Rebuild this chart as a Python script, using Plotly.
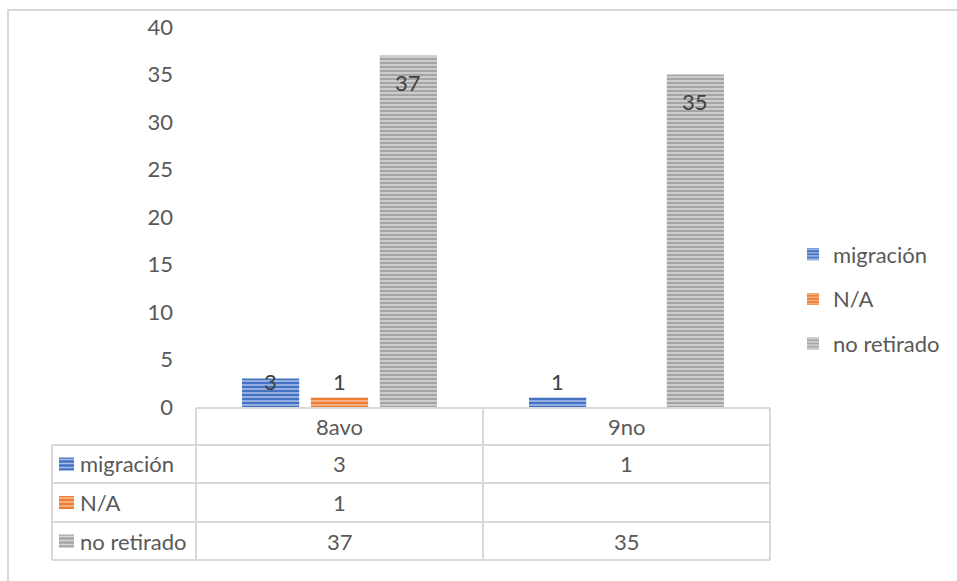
import plotly.graph_objects as go

categories = ["8avo", "9no"]
series_names = ["migración", "N/A", "no retirado"]
migracion = [3, 1]
na_values = [1, None]
no_retirado = [37, 35]
y_ticks = [0, 5, 10, 15, 20, 25, 30, 35, 40]

series_values = [migracion, na_values, no_retirado]
colors = ["#4472C4", "#ED7D31", "#A5A5A5"]
stripe = ["#A9BFE6", "#F7BE98", "#D6D6D6"]

W, H = 957, 581
L, R, T, B = 196, 770, 27, 407
FONT = "Lato, 'Open Sans', sans-serif"
TXT = "#595959"
GRID = "#D9D9D9"
FS = 22

def px(x):
    return (x - L) / (R - L)

def py(y):
    return (B - y) / (B - T)

BARGAP = 0.28
GROUPGAP = 0.17
n = len(series_names)

fig = go.Figure()
for i, (name, vals) in enumerate(zip(series_names, series_values)):
    fig.add_trace(go.Bar(
        x=categories, y=vals, name=name, legendgroup=name,
        marker=dict(color=colors[i], line=dict(width=0),
                    pattern=dict(shape="-", fillmode="overlay", fgcolor=stripe[i],
                                 fgopacity=1, size=4, solidity=0.4)),
        hoverinfo="skip",
    ))

annotations = []
shapes = []

# data labels on bars
slot = (1 - BARGAP) / n
for i, vals in enumerate(series_values):
    for j, v in enumerate(vals):
        if v is None:
            continue
        annotations.append(dict(
            x=j + (i - (n - 1) / 2) * slot, y=max(v - 3, 2.5), xref="x", yref="y",
            text=str(v), showarrow=False, yanchor="middle", yshift=2,
            font=dict(family=FONT, size=FS, color="#404040")))

# outer chart frame
shapes.append(dict(type="rect", xref="paper", yref="paper",
                   x0=px(8), x1=px(990), y0=py(10), y1=py(620),
                   line=dict(color=GRID, width=2), fillcolor="rgba(0,0,0,0)", layer="below"))

# data table
row_edges = [408, 445, 483, 522, 560]
col_edges = [52, 196, 483, 770]
lw = dict(color=GRID, width=2)
shapes.append(dict(type="line", xref="paper", yref="paper", x0=px(196), x1=px(770),
                   y0=py(row_edges[0]), y1=py(row_edges[0]), line=lw))
for ry in row_edges[1:]:
    shapes.append(dict(type="line", xref="paper", yref="paper", x0=px(52), x1=px(770),
                       y0=py(ry), y1=py(ry), line=lw))
shapes.append(dict(type="line", xref="paper", yref="paper", x0=px(52), x1=px(52),
                   y0=py(row_edges[1]), y1=py(row_edges[-1]), line=lw))
for cx in col_edges[1:]:
    shapes.append(dict(type="line", xref="paper", yref="paper", x0=px(cx), x1=px(cx),
                       y0=py(row_edges[0]), y1=py(row_edges[-1]), line=lw))

for j, c in enumerate(categories):
    annotations.append(dict(x=j, y=py((row_edges[0] + row_edges[1]) / 2), xref="x", yref="paper",
                            text=c, showarrow=False, yanchor="middle",
                            font=dict(family=FONT, size=FS, color=TXT)))
for i, (name, vals) in enumerate(zip(series_names, series_values)):
    yc = (row_edges[i + 1] + row_edges[i + 2]) / 2
    shapes.append(dict(type="rect", xref="paper", yref="paper",
                       x0=px(59), x1=px(74), y0=py(yc - 6.5), y1=py(yc + 6.5),
                       line=dict(width=0), fillcolor=colors[i]))
    for k in range(3):
        sy = yc - 4.5 + k * 4
        shapes.append(dict(type="line", xref="paper", yref="paper",
                           x0=px(59), x1=px(74), y0=py(sy), y1=py(sy),
                           line=dict(color=stripe[i], width=1.5)))
    annotations.append(dict(x=px(78), y=py(yc), xref="paper", yref="paper",
                            text=name, showarrow=False, xanchor="left", yanchor="middle",
                            font=dict(family=FONT, size=FS, color=TXT)))
    for j, v in enumerate(vals):
        annotations.append(dict(x=j, y=py(yc), xref="x", yref="paper",
                                text="" if v is None else str(v), showarrow=False,
                                yanchor="middle",
                                font=dict(family=FONT, size=FS, color=TXT)))

fig.update_layout(
    width=W, height=H,
    margin=dict(l=L, r=W - R, t=T, b=H - B, pad=0),
    paper_bgcolor="white", plot_bgcolor="white",
    barmode="group", bargap=BARGAP, bargroupgap=GROUPGAP,
    font=dict(family=FONT, size=FS, color=TXT),
    xaxis=dict(showticklabels=False, showgrid=False, zeroline=False, showline=False,
               ticks="", fixedrange=True),
    yaxis=dict(range=[0, 40], tickvals=y_ticks, showgrid=False, zeroline=False,
               showline=False, ticks="", ticklabelstandoff=22, fixedrange=True,
               tickfont=dict(family=FONT, size=FS, color=TXT)),
    legend=dict(x=px(793), xanchor="left", y=py(299), yanchor="middle",
                font=dict(family=FONT, size=FS, color=TXT), tracegroupgap=13,
                bgcolor="rgba(0,0,0,0)"),
    shapes=shapes, annotations=annotations,
    showlegend=True,
)

fig.write_html("out.html", config={"displayModeBar": False},
               post_script="document.body.style.margin='0';document.body.style.overflow='hidden';")
